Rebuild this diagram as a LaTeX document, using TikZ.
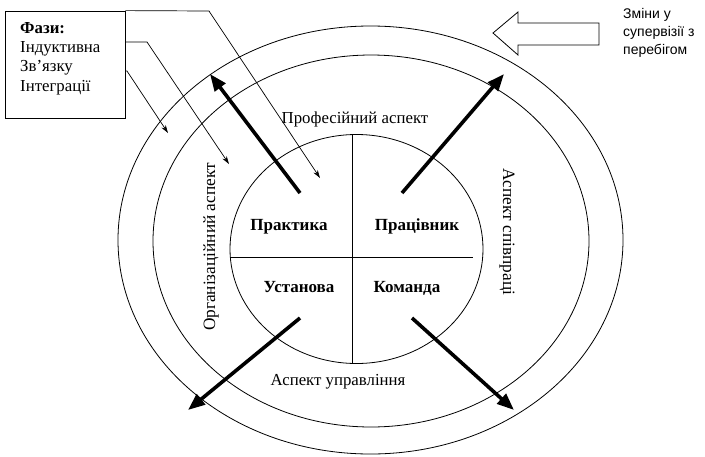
\documentclass[tikz,border=0pt]{standalone}
\usepackage{fontspec}
\setmainfont{Liberation Serif}
\newfontfamily\arialfont{Liberation Sans}
\usetikzlibrary{arrows.meta}
\begin{document}
\begin{tikzpicture}[x=1pt,y=-1pt,
  ring/.style={line width=0.8pt},
  divider/.style={line width=0.8pt},
  bigarrow/.style={line width=3.6pt,-{Triangle[length=17pt,width=13pt]}},
  thinarrow/.style={line width=0.7pt,-{Stealth[length=8pt,width=5pt]}},
  aspect/.style={font=\fontsize{16.8}{19}\selectfont,inner sep=0pt,anchor=base},
  rotaspect/.style={font=\fontsize{17.3}{19}\selectfont,inner sep=0pt},
  quad/.style={font=\bfseries\fontsize{17}{19}\selectfont,inner sep=0pt,anchor=base}]
\useasboundingbox (0,0) rectangle (705,456);
% rings
\draw[ring] (370.5,240) ellipse [x radius=252.5pt, y radius=214pt];
\draw[ring] (371,241) ellipse [x radius=218pt, y radius=186pt];
\draw[ring] (356.5,249) ellipse [x radius=126.5pt, y radius=114.5pt];
% dividers
\coordinate (vt) at (352,134.6);
\coordinate (vb) at (352,363.4);
\coordinate (hl) at (230,257);
\coordinate (hr) at (473,257);
\draw[divider] (vt) -- (vb);
\draw[divider] (hl) -- (hr);
% quadrant labels
\node[quad] (prak) at (289,230) {Практика};
\node[quad] (prac) at (417,230) {Працівник};
\node[quad] (ust) at (299,292) {Установа};
\node[quad] (kom) at (407,292) {Команда};
% aspects
\node[aspect] (prof) at (355,123) {Професійний аспект};
\node[aspect] (upr) at (338,385) {Аспект управління};
\node[rotaspect,rotate=90] (org) at (211,247) {Організаційний аспект};
\node[rotaspect,rotate=-90] (spiv) at (507,232) {Аспект співпраці};
% thick arrows
\coordinate (a1s) at (300,193); \coordinate (a1e) at (210,74);
\coordinate (a2s) at (402,193); \coordinate (a2e) at (504,74);
\coordinate (a3s) at (300,318); \coordinate (a3e) at (188,410);
\coordinate (a4s) at (412,318); \coordinate (a4e) at (514,410);
\draw[bigarrow] (a1s) -- (a1e);
\draw[bigarrow] (a2s) -- (a2e);
\draw[bigarrow] (a3s) -- (a3e);
\draw[bigarrow] (a4s) -- (a4e);
% phases box
\node[draw,line width=0.8pt,minimum width=120pt,minimum height=107pt,inner sep=0pt] (box) at (65,64.5) {};
\node[anchor=base west,align=left,inner sep=0pt,font=\fontsize{16.8}{19.3}\selectfont] (ptxt) at (20,91)
  {\textbf{Фази:}\\Індуктивна\\Зв’язку\\Інтеграції};
\coordinate (t1a) at (209,11); \coordinate (t1e) at (320,178);
\coordinate (t2a) at (147,42); \coordinate (t2e) at (229,164);
\coordinate (t3a) at (127,71); \coordinate (t3e) at (168,133);
\draw[thinarrow] (box.north east) -- (t1a) -- (t1e);
\draw[thinarrow] (box.east |- t2a) -- (t2a) -- (t2e);
\draw[thinarrow] (box.east |- t3a) -- (t3a) -- (t3e);
% block arrow
\draw[line width=0.8pt,fill=white] (493,33) -- (518,12) -- (518,23) -- (599,23) -- (599,45) -- (518,45) -- (518,55) -- cycle;
\node[anchor=base west,align=left,inner sep=0pt,font=\arialfont\fontsize{14}{18}\selectfont] (zminy) at (623,54)
  {Зміни у\\супервізії з\\перебігом};
\end{tikzpicture}
\end{document}
